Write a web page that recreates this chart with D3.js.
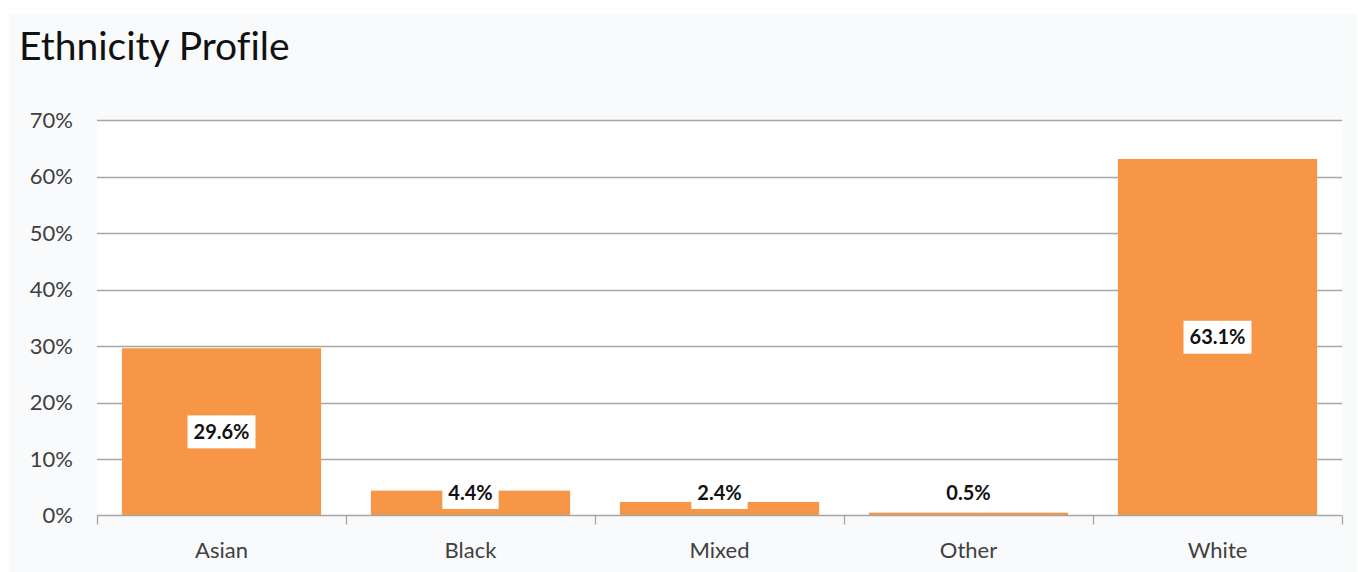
<!DOCTYPE html>
<html><head><meta charset="utf-8">
<script src="https://cdn.jsdelivr.net/npm/d3@7"></script>
<style>html,body{margin:0;padding:0;background:#fff;}svg{display:block;}text{font-variant-ligatures:none;font-feature-settings:"liga" 0;}</style>
</head><body>
<svg id="chart" width="1358" height="572"></svg>
<script>
const title = "Ethnicity Profile";
const categories = ["Asian", "Black", "Mixed", "Other", "White"];
const values = [29.6, 4.4, 2.4, 0.5, 63.1];
const valueLabels = ["29.6%", "4.4%", "2.4%", "0.5%", "63.1%"];
const yTicks = [0, 10, 20, 30, 40, 50, 60, 70];

const svg = d3.select("#chart");
const W = 1358, H = 572;
const font = "Lato, 'Open Sans', sans-serif";
const plot = {left: 97, right: 1342, top: 120, bottom: 515.5};

svg.append("rect").attr("x", 9).attr("y", 14).attr("width", W - 10).attr("height", H - 14).attr("fill", "#f9fafc");
svg.append("rect").attr("x", plot.left).attr("y", plot.top).attr("width", plot.right - plot.left).attr("height", plot.bottom - plot.top).attr("fill", "#ffffff");

svg.append("text").attr("x", 19).attr("y", 60).attr("font-family", font).attr("font-size", 39)
  .attr("fill", "#111").text(title);

const x = d3.scaleBand().domain(categories).range([plot.left, plot.right]).paddingInner(0.2).paddingOuter(0.1);
const y = d3.scaleLinear().domain([0, 70]).range([plot.bottom, plot.top]);

// gridlines
svg.append("g").selectAll("line").data(yTicks.filter(d => d > 0)).join("line")
  .attr("x1", plot.left).attr("x2", plot.right)
  .attr("y1", d => Math.round(y(d)) + 0.5).attr("y2", d => Math.round(y(d)) + 0.5)
  .attr("stroke", "#a6a6a6").attr("stroke-width", 1.3);

// y labels
svg.append("g").selectAll("text").data(yTicks).join("text")
  .attr("x", 73).attr("y", d => y(d)).attr("dy", "0.36em").attr("text-anchor", "end")
  .attr("font-family", font).attr("font-size", 22).attr("fill", "#404040")
  .text(d => d + "%");

// bars
svg.append("g").selectAll("rect").data(categories).join("rect")
  .attr("x", d => x(d)).attr("width", x.bandwidth())
  .attr("y", (d, i) => y(values[i])).attr("height", (d, i) => plot.bottom - y(values[i]))
  .attr("fill", "#f79646");

// x axis
svg.append("line").attr("x1", plot.left).attr("x2", plot.right).attr("y1", plot.bottom).attr("y2", plot.bottom)
  .attr("stroke", "#a6a6a6").attr("stroke-width", 1.3);
const step = x.step();
const tickPos = d3.range(categories.length + 1).map(i => plot.left + i * step);
svg.append("g").selectAll("line").data(tickPos).join("line")
  .attr("x1", d => Math.round(d) + 0.5).attr("x2", d => Math.round(d) + 0.5)
  .attr("y1", plot.bottom).attr("y2", plot.bottom + 9)
  .attr("stroke", "#a6a6a6").attr("stroke-width", 1.3);

svg.append("g").selectAll("text").data(categories).join("text")
  .attr("x", d => x(d) + x.bandwidth() / 2).attr("y", 558).attr("text-anchor", "middle")
  .attr("font-family", font).attr("font-size", 22).attr("fill", "#404040")
  .text(d => d);

// value labels
const lg = svg.append("g").selectAll("g").data(categories).join("g")
  .attr("transform", (d, i) => {
    const cy = Math.min((y(values[i]) + plot.bottom) / 2, 492.5);
    return `translate(${x(d) + x.bandwidth() / 2},${cy})`;
  });
lg.append("text").attr("text-anchor", "middle").attr("dy", "0.36em")
  .attr("font-family", font).attr("font-size", 20).attr("font-weight", "bold").attr("fill", "#111")
  .text((d, i) => valueLabels[i]);
lg.each(function() {
  const g = d3.select(this);
  const bb = g.select("text").node().getBBox();
  g.insert("rect", "text").attr("x", bb.x - 6).attr("y", -16.5).attr("width", bb.width + 12).attr("height", 33).attr("fill", "#fff");
});
</script>
</body></html>
